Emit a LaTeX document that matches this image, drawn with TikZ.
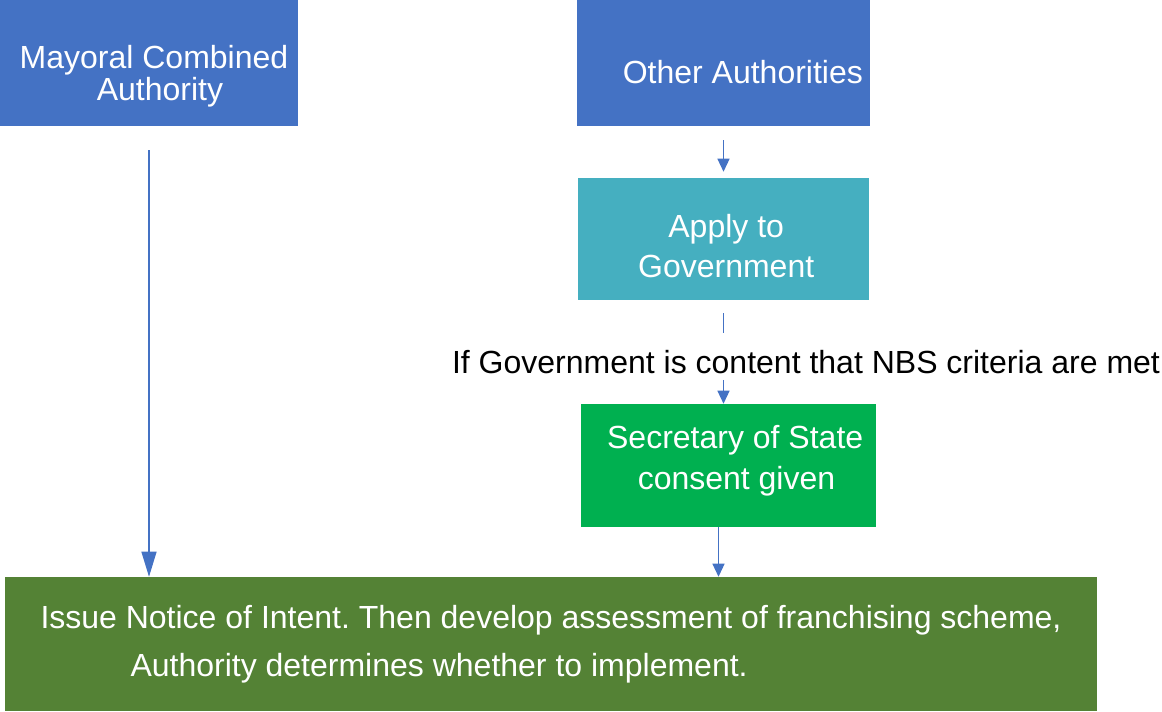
\documentclass[tikz,border=0pt]{standalone}
\usepackage{fontspec}
\setmainfont{Liberation Sans}
\usetikzlibrary{arrows.meta,positioning}
\definecolor{azul}{HTML}{4472C4}
\definecolor{turquesa}{HTML}{45AFC0}
\definecolor{verde}{HTML}{00B050}
\definecolor{verdeoscuro}{HTML}{548235}
\frenchspacing

\begin{document}
\begin{tikzpicture}[x=0.75pt,y=-0.75pt,
    every node/.style={font=\fontsize{24}{24}\selectfont},
    caja/.style={text=white,align=center,inner sep=0pt},
    linea/.style={draw=azul,line width=0.9pt},
    flecha/.style={linea,-{Triangle[width=9pt,length=9.75pt]}}]
        \useasboundingbox (0,0) rectangle (1162,711);
        % top row
        \node[caja,fill=azul,minimum width=223.5pt,minimum height=94.5pt] (mca) at (149,63) {\hspace*{7.5pt}\rule{0pt}{37pt}Mayoral Combined\\\hspace*{16.5pt}Authority};
        \node[caja,fill=azul,minimum width=219.75pt,minimum height=94.5pt] (other) at (723.5,63) {\hspace*{29pt}\rule{0pt}{31.5pt}Other Authorities};
        % application route
        \node[caja,fill=turquesa,minimum width=218.25pt,minimum height=91.5pt,font=\fontsize{24}{30}\selectfont] (apply) at (723.5,239) {\hspace*{4pt}\rule{0pt}{28pt}Apply to\\\hspace*{4pt}Government};
        \node[inner sep=0pt,text height=17pt,text depth=5pt,anchor=base] (cond) at (806,373) {If Government is content that NBS criteria are met};
        \node[caja,fill=verde,minimum width=221.25pt,minimum height=92.25pt,font=\fontsize{24}{31}\selectfont] (sos) at (728.5,465.5) {\hspace*{10pt}Secretary of State\\\hspace*{12pt}consent given\rule[-12pt]{0pt}{12pt}};
        % outcome
        \node[caja,fill=verdeoscuro,align=left,minimum width=819pt,minimum height=100.5pt,font=\fontsize{24}{36}\selectfont] (issue) at (551,644) {Issue Notice of Intent. Then develop assessment of franchising scheme,\\\hspace*{67.5pt}Authority determines whether to implement.};
        \draw[linea,-{Triangle[width=11.25pt,length=18.75pt]},shorten <=18pt] (mca.south) -- (mca.south |- issue.north);
        \draw[flecha,shorten <=10.5pt,shorten >=4.5pt] (other.south) -- (apply.north);
        \draw[linea,shorten <=9.75pt,shorten >=12.75pt] (apply.south) -- (apply.south |- cond.north);
        \draw[flecha] (apply.south |- cond.south) -- (apply.south |- sos.north);
        \draw[flecha] ([xshift=-7.5pt]sos.south) -- ([xshift=-7.5pt]sos.south |- issue.north);
      \end{tikzpicture}
\end{document}
